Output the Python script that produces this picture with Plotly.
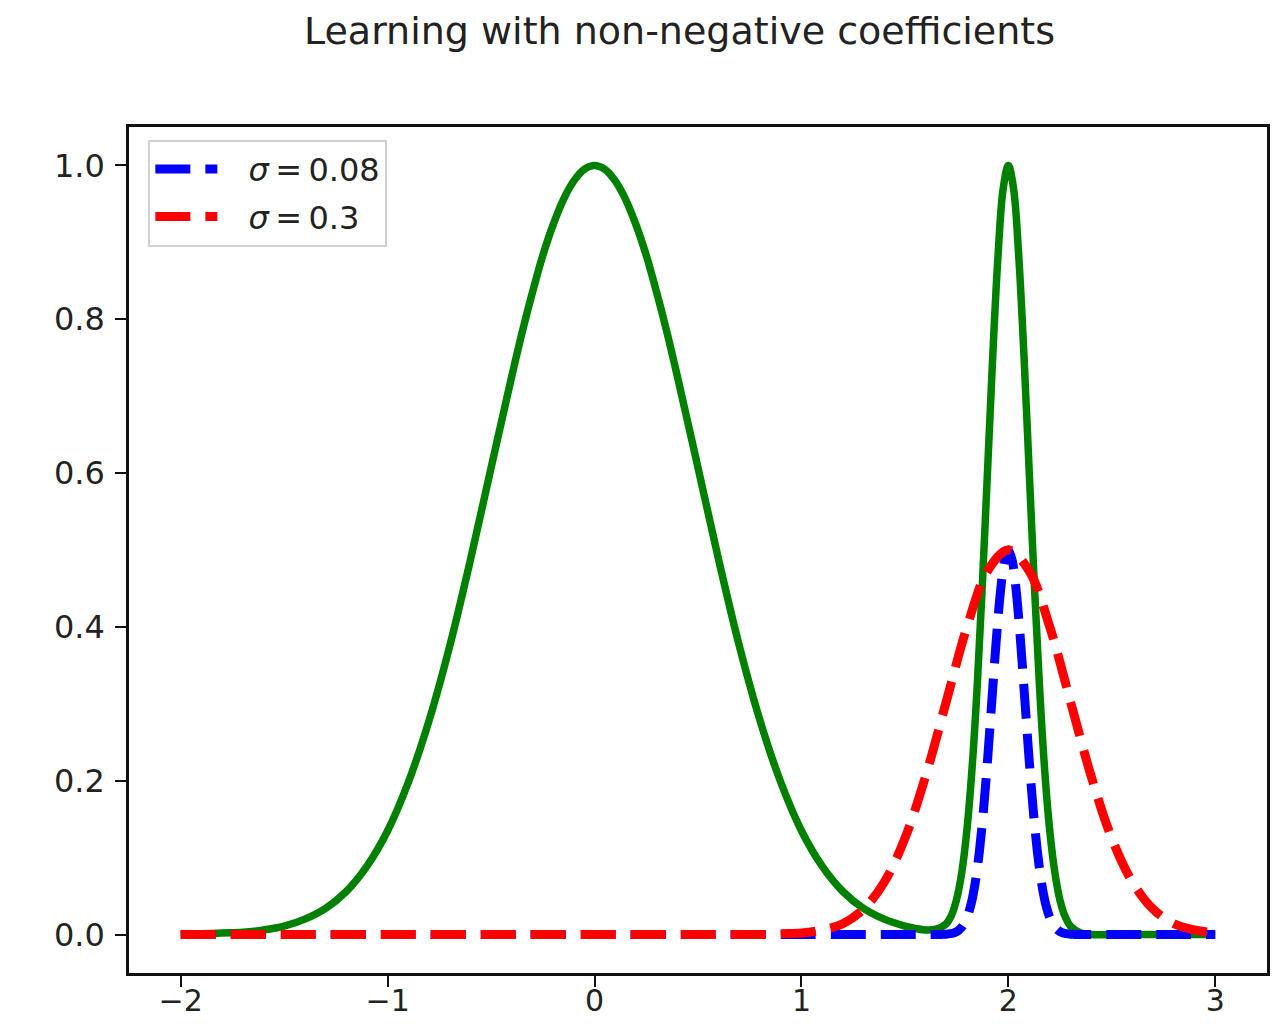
import plotly.graph_objects as go

# Green curve: broad bump centred at 0 plus a narrow peak at 2
x_green = [-2.0, -1.9, -1.8, -1.7, -1.6, -1.5, -1.4, -1.3, -1.2, -1.1,
           -1.0, -0.9, -0.8, -0.7, -0.6, -0.5, -0.4, -0.35, -0.3, -0.25, -0.2, -0.15, -0.1, -0.05,
           0.0, 0.05, 0.1, 0.15, 0.2, 0.25, 0.3, 0.35, 0.4, 0.5, 0.6, 0.7, 0.8, 0.9,
           1.0, 1.1, 1.2, 1.3, 1.4, 1.5, 1.55, 1.6, 1.65, 1.7,
           1.725, 1.75, 1.775, 1.8, 1.825, 1.85, 1.875, 1.9, 1.925, 1.95,
           1.975, 2.0, 2.025, 2.05, 2.075, 2.1, 2.125, 2.15, 2.175, 2.2,
           2.225, 2.25, 2.275, 2.3, 2.35, 2.4, 2.5, 2.6, 2.7, 2.8, 2.9, 3.0]
y_green = [0.000, 0.001, 0.002, 0.003, 0.006, 0.011, 0.020, 0.034, 0.056, 0.089,
           0.135, 0.198, 0.278, 0.375, 0.487, 0.607, 0.726, 0.783, 0.835, 0.883, 0.923, 0.956, 0.980, 0.995,
           1.000, 0.995, 0.980, 0.956, 0.923, 0.883, 0.835, 0.783, 0.726, 0.607, 0.487, 0.375, 0.278, 0.198,
           0.135, 0.089, 0.056, 0.034, 0.020, 0.011, 0.008, 0.006, 0.007, 0.014,
           0.025, 0.046, 0.081, 0.137, 0.218, 0.326, 0.459, 0.607, 0.755, 0.883,
           0.970, 1.000, 0.970, 0.883, 0.755, 0.607, 0.458, 0.325, 0.216, 0.135,
           0.080, 0.044, 0.023, 0.011, 0.002, 0.000, 0.000, 0.000, 0.000, 0.000, 0.000, 0.000]

# Blue dashed curve: narrow bump (sigma = 0.08) at 2
x_blue = [-2.0, -1.5, -1.0, -0.5, 0.0, 0.5, 1.0, 1.2, 1.4, 1.5, 1.6,
          1.62, 1.64, 1.66, 1.68, 1.70, 1.72, 1.74, 1.76, 1.78, 1.80,
          1.82, 1.84, 1.86, 1.88, 1.90, 1.92, 1.94, 1.96, 1.98, 2.00,
          2.02, 2.04, 2.06, 2.08, 2.10, 2.12, 2.14, 2.16, 2.18, 2.20,
          2.22, 2.24, 2.26, 2.28, 2.30, 2.32, 2.34, 2.36, 2.38, 2.40,
          2.5, 2.6, 2.8, 3.0]
y_blue = [0.0, 0.0, 0.0, 0.0, 0.0, 0.0, 0.0, 0.0, 0.0, 0.0, 0.0,
          0.0, 0.0, 0.0001, 0.0002, 0.0004, 0.0011, 0.0025, 0.0056, 0.0114, 0.0220,
          0.0398, 0.0677, 0.1082, 0.1623, 0.2289, 0.3033, 0.3774, 0.4412, 0.4846, 0.5000,
          0.4846, 0.4412, 0.3774, 0.3033, 0.2289, 0.1623, 0.1082, 0.0677, 0.0398, 0.0220,
          0.0114, 0.0056, 0.0025, 0.0011, 0.0004, 0.0002, 0.0001, 0.0, 0.0, 0.0,
          0.0, 0.0, 0.0, 0.0]

# Red dashed curve: wide bump (sigma = 0.3) at 2
x_red = [-2.0, -1.9, -1.8, -1.7, -1.6, -1.5, -1.4, -1.3, -1.2, -1.1,
         -1.0, -0.9, -0.8, -0.7, -0.6, -0.5, -0.4, -0.3, -0.2, -0.1,
         0.0, 0.1, 0.2, 0.3, 0.4, 0.5, 0.6, 0.7, 0.8, 0.9,
         1.0, 1.1, 1.2, 1.3, 1.4, 1.5, 1.6, 1.7, 1.8, 1.9,
         2.0, 2.1, 2.2, 2.3, 2.4, 2.5, 2.6, 2.7, 2.8, 2.9, 3.0]
y_red = [0.0, 0.0, 0.0, 0.0, 0.0, 0.0, 0.0, 0.0, 0.0, 0.0,
         0.0, 0.0, 0.0, 0.0, 0.0, 0.0, 0.0, 0.0, 0.0, 0.0,
         0.0, 0.0, 0.0, 0.0, 0.0, 0.0, 0.0, 0.0, 0.0, 0.001,
         0.002, 0.006, 0.014, 0.033, 0.068, 0.125, 0.206, 0.303, 0.400, 0.473,
         0.500, 0.473, 0.400, 0.303, 0.206, 0.125, 0.068, 0.033, 0.014, 0.006, 0.002]

labels = ["\u2002\u00a0<i>σ</i>\u2009=\u20090.08", "\u2002\u00a0<i>σ</i>\u2009=\u20090.3"]
x_ticks = [-2, -1, 0, 1, 2, 3]
y_ticks = [0.0, 0.2, 0.4, 0.6, 0.8, 1.0]

FONT = "DejaVu Sans"
DASH = "35px,15px"

fig = go.Figure()
fig.add_trace(go.Scatter(x=x_green, y=y_green, mode="lines", showlegend=False,
                         line=dict(color="#008000", width=7.5, shape="spline", smoothing=1.0)))
fig.add_trace(go.Scatter(x=x_blue, y=y_blue, mode="lines", name=labels[0], legendgroup="a",
                         line=dict(color="#0000ff", width=9, dash=DASH, shape="spline", smoothing=0.8)))
fig.add_trace(go.Scatter(x=x_red, y=y_red, mode="lines", name=labels[1], legendgroup="b",
                         line=dict(color="#ff0000", width=9, dash=DASH, shape="spline", smoothing=1.0)))

axis_common = dict(
    showgrid=False, zeroline=False, automargin=False,
    showline=True, mirror=True, linecolor="#111", linewidth=2.5,
    ticks="outside", ticklen=11, tickwidth=2.2, tickcolor="#111",
    tickfont=dict(family=FONT, size=32, color="#222"),
)

fig.update_layout(
    width=1281, height=1024,
    margin=dict(l=129, r=14, t=127, b=51),
    paper_bgcolor="white", plot_bgcolor="white",
    title=dict(text="Learning with non-negative coefficients",
               font=dict(family=FONT, size=38, color="#222"),
               x=679.5 / 1281, xref="container", xanchor="center",
               y=1 - 31 / 1024, yref="container", yanchor="middle", automargin=False),
    xaxis=dict(range=[-2.25, 3.25], tickvals=x_ticks, ticklabelstandoff=-12, **axis_common),
    yaxis=dict(range=[-0.05, 1.05], tickvals=y_ticks, tickformat=".1f",
               ticklabelstandoff=4, **axis_common),
    legend=dict(x=0.017, y=0.985, xanchor="left", yanchor="top",
                bgcolor="rgba(255,255,255,0.85)", bordercolor="#d0d0d0", borderwidth=2,
                font=dict(family=FONT, size=32, color="#222"),
                itemwidth=62, tracegroupgap=3),
)
fig.update_xaxes(tickfont=dict(family=FONT, size=30, color="#222"))

fig.write_html("out.html")
